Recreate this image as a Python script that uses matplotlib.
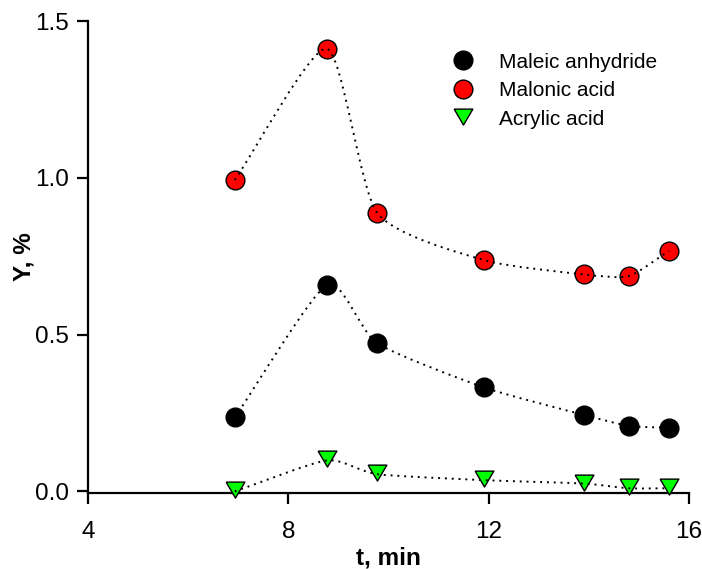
import numpy as np
import matplotlib
matplotlib.use("Agg")
import matplotlib.pyplot as plt
from matplotlib.path import Path
from matplotlib.patches import PathPatch

plt.rcParams['font.family'] = ['Liberation Sans', 'DejaVu Sans']

# data
t = [6.93, 8.77, 9.77, 11.9, 13.9, 14.8, 15.6]
maleic = [0.236, 0.658, 0.473, 0.332, 0.244, 0.209, 0.203]
malonic = [0.993, 1.412, 0.889, 0.738, 0.692, 0.687, 0.767]
acrylic = [0.0, 0.099, 0.055, 0.036, 0.025, 0.010, 0.010]
labels = ["Maleic anhydride", "Malonic acid", "Acrylic acid"]


def spline_path(x, y, c=0.35):
    # cardinal spline through the points as cubic bezier segments
    p = np.column_stack([x, y])
    n = len(p)
    tang = np.zeros_like(p)
    for i in range(n):
        a = p[max(i - 1, 0)]
        b = p[min(i + 1, n - 1)]
        k = 0.5 if 0 < i < n - 1 else 1.0
        tang[i] = (1 - c) * k * (b - a)
    verts = [p[0]]
    codes = [Path.MOVETO]
    for i in range(n - 1):
        verts += [p[i] + tang[i] / 3, p[i + 1] - tang[i + 1] / 3, p[i + 1]]
        codes += [Path.CURVE4] * 3
    return Path(verts, codes)


fig = plt.figure(figsize=(7.02, 5.69), dpi=100)
ax = fig.add_axes([0.1254, 0.1336, 0.856, 0.8294])

tri = [(-1, 1), (1, 1), (0, -0.7), (-1, 1)]
series = [
    (maleic, 'o', 'black', 13.5),
    (malonic, 'o', 'red', 13.5),
    (acrylic, tri, '#00ff00', 13.5),
]
handles = []
for (vals, m, col, ms), lab in zip(series, labels):
    h, = ax.plot(t, vals, ls='none', marker=m, ms=ms, mfc=col, mec='black',
                 mew=1.0, label=lab, zorder=3, clip_on=False)
    handles.append(h)
    ax.add_patch(PathPatch(spline_path(t, vals), fill=False, lw=1.4,
                           ls=(0, (1, 2.5)), ec='black', zorder=4,
                           clip_on=False))

ax.set_xlim(4, 16)
ax.set_ylim(-0.005, 1.5)
ax.set_xticks([4, 8, 12, 16])
ax.set_yticks([0.0, 0.5, 1.0, 1.5])
ax.set_yticklabels(["0.0", "0.5", "1.0", "1.5"])
ax.spines['top'].set_visible(False)
ax.spines['right'].set_visible(False)
for s in ['left', 'bottom']:
    ax.spines[s].set_linewidth(1.6)
ax.tick_params(axis='both', direction='out', length=8, width=1.6,
               labelsize=17.5)
ax.tick_params(axis='x', pad=12)
ax.tick_params(axis='y', pad=6)

ax.set_xlabel("t, min", fontsize=17.5, fontweight='bold', labelpad=3)
ax.set_ylabel("Y, %", fontsize=17.5, fontweight='bold', labelpad=-1)

ax.legend(handles=handles, loc='upper left', bbox_to_anchor=(0.572, 0.973),
          frameon=False, fontsize=15, handletextpad=1.13, labelspacing=0.47,
          handlelength=1.2)

fig.savefig("out.png", dpi=100)
